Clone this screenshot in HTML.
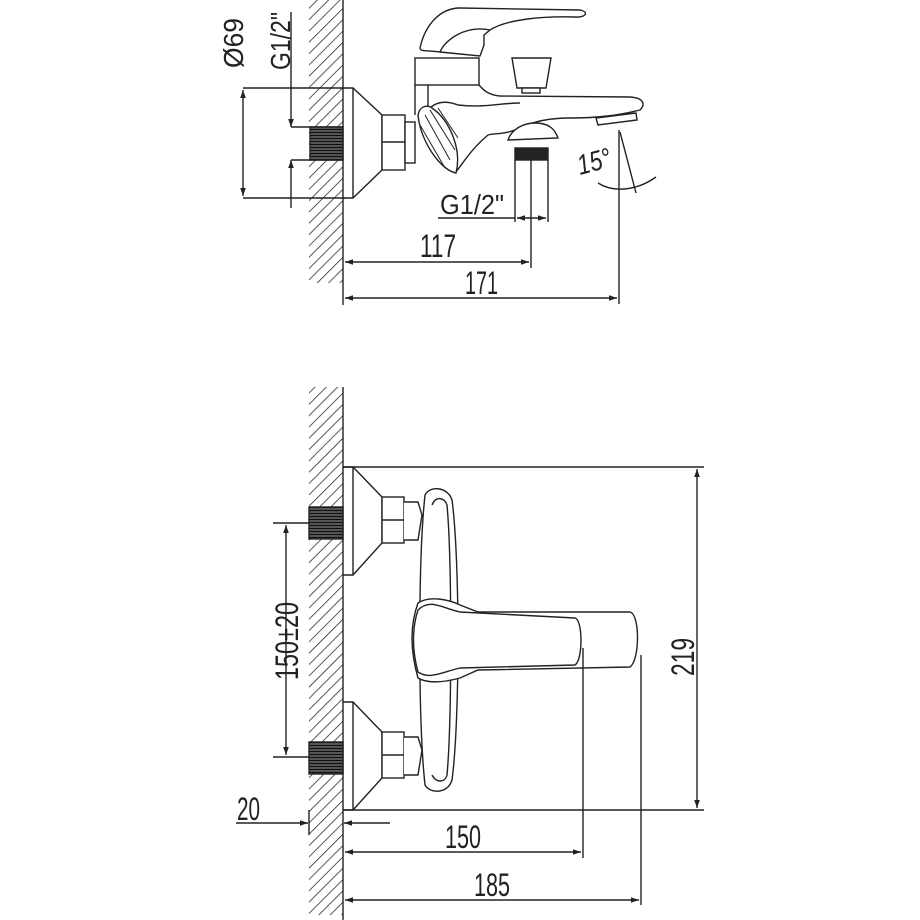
<!DOCTYPE html>
<html><head><meta charset="utf-8"><style>
html,body{margin:0;padding:0;background:#fff}
svg{display:block}
text{font-family:"Liberation Sans Narrow","Liberation Sans",sans-serif;fill:#222}
</style></head><body>
<svg width="920" height="920" viewBox="0 0 920 920" xmlns="http://www.w3.org/2000/svg">
<defs>
<pattern id="h" patternUnits="userSpaceOnUse" width="8" height="8" patternTransform="rotate(45)">
<line x1="0" y1="0" x2="0" y2="8" stroke="#222" stroke-width="1.5"/>
</pattern>
<pattern id="th" patternUnits="userSpaceOnUse" width="3" height="3">
<rect width="3" height="3" fill="#555"/><line x1="0" y1="0" x2="3" y2="0" stroke="#111" stroke-width="2"/>
</pattern>
<marker id="a" viewBox="0 0 10 10" refX="10" refY="5" markerWidth="12" markerHeight="8" markerUnits="userSpaceOnUse" orient="auto-start-reverse">
<path d="M0,1.5 L10,5 L0,8.5 Z" fill="#222"/></marker>
</defs>
<g fill="none" stroke="#222" stroke-width="1.4">
<rect x="309" y="0" width="34" height="283" fill="url(#h)" stroke="none"/>
<line x1="343" y1="0" x2="343" y2="305"/>
<line x1="243" y1="88" x2="345" y2="88"/><line x1="243" y1="198" x2="345" y2="198"/>
<line x1="243" y1="90" x2="243" y2="196" marker-start="url(#a)" marker-end="url(#a)"/>
<line x1="291" y1="12" x2="291" y2="127" marker-end="url(#a)"/>
<line x1="291" y1="208" x2="291" y2="160" marker-end="url(#a)"/>
<line x1="291" y1="127" x2="343" y2="127"/><line x1="291" y1="160" x2="343" y2="160"/>
<rect x="310" y="127" width="33" height="33" fill="url(#th)"/>
<path d="M343,88 L353,88 L382,115 L382,170 L353,198 L343,198"/>
<line x1="353" y1="88" x2="353" y2="198"/>
<rect x="382" y="115" width="23" height="55" fill="#fff"/>
<line x1="382" y1="142" x2="405" y2="142"/>
<rect x="405" y="122" width="10" height="41" fill="#fff"/>
<rect x="415" y="58" width="64" height="27" fill="#fff"/>
<path d="M415,85 L415,115 M428,85 L428,110"/>
<path d="M420,48 C425,25 440,8 460,8 L580,10 C590,12 585,18 575,17 C540,16 505,20 490,30 L484,35 L484,45 L480,56 L440,52 C428,50 420,52 420,48 Z" fill="#fff"/>
<path d="M440,52 C445,40 465,25 490,30"/>
<path d="M479,85 C485,92 490,95 500,96 L630,97 C645,98 645,105 640,110 C620,115 600,118 570,118 C545,118 530,123 520,128 C505,135 495,133 488,135 C470,150 462,165 455,173"/>
<path d="M428,110 C435,102 445,100 458,105 C485,108 500,103 520,103"/>
<path d="M418,115 C420,105 428,105 432,108 C450,120 462,150 456,173 C440,170 420,140 418,115 Z" fill="#fff"/>
<path d="M425,115 L450,160 M420,125 L445,168 M430,110 L455,150 M438,108 L458,138" stroke-width="1"/>
<path d="M508,140 C512,128 525,123 535,123 C550,123 555,130 558,138 L508,140 Z" fill="#fff"/>
<path d="M598,125 L596,118 L636,113 L637,120 Z" fill="#fff"/>
<path d="M512,58 L551,58 L546,88 L517,88 Z" fill="#fff"/>
<rect x="522" y="88" width="18" height="5" fill="#fff"/>
<rect x="515" y="148" width="33" height="12" fill="#222"/>
<path d="M515,160 L515,222 M548,160 L548,222 M531,160 L531,268"/>
<line x1="438" y1="218" x2="515" y2="218"/>
<line x1="517" y1="218" x2="546" y2="218" marker-start="url(#a)" marker-end="url(#a)" />
<line x1="345" y1="262" x2="529" y2="262" marker-start="url(#a)" marker-end="url(#a)"/>
<line x1="345" y1="298" x2="617" y2="298" marker-start="url(#a)" marker-end="url(#a)"/>
<line x1="619" y1="130" x2="619" y2="304"/>
<line x1="620" y1="132" x2="636" y2="193"/>
<path d="M598,183 C612,192 635,192 656,177" />
<rect x="309" y="387" width="34" height="528" fill="url(#h)" stroke="none"/>
<line x1="343" y1="387" x2="343" y2="920"/>
<line x1="343" y1="467" x2="704" y2="467"/><line x1="343" y1="810" x2="704" y2="810"/>
<line x1="697" y1="469" x2="697" y2="808" marker-start="url(#a)" marker-end="url(#a)"/>
<g id="esc">
<path d="M343,467 L353,467 L382,497 L382,543 L353,575 L343,575"/>
<line x1="353" y1="467" x2="353" y2="575"/>
<rect x="382" y="497" width="22" height="46" fill="#fff"/>
<line x1="382" y1="520" x2="404" y2="520"/>
<path d="M404,502 L418,502 L422,515 L418,540 L404,540" fill="#fff"/>
<rect x="309" y="507" width="34" height="32" fill="url(#th)"/>
</g>
<use href="#esc" transform="translate(0,235)"/>
<line x1="273" y1="523" x2="310" y2="523"/><line x1="273" y1="757" x2="310" y2="757"/>
<line x1="286" y1="525" x2="286" y2="755" marker-start="url(#a)" marker-end="url(#a)"/>
<path d="M425,495 C430,485 448,487 452,500 C460,560 460,720 452,780 C448,794 430,794 425,785 C418,720 418,560 425,495 Z" fill="#fff"/>
<path d="M432,505 C436,495 445,498 447,505 C452,560 452,720 447,775 C445,783 436,783 432,775"/>
<path d="M418,603 C430,595 450,600 460,605 L478,612 L630,612 C640,614 640,660 630,667 L478,670 L460,678 C445,682 428,684 418,678 C410,650 410,625 418,603 Z" fill="#fff"/>
<path d="M418,610 C430,598 442,608 460,612 L575,618 C583,620 583,660 575,665 L460,668 C442,672 430,680 418,672 C412,650 412,628 418,610 Z"/>
<line x1="583" y1="648" x2="583" y2="858"/>
<line x1="641" y1="655" x2="641" y2="905"/>
<line x1="236" y1="823" x2="308" y2="823" marker-end="url(#a)"/>
<line x1="390" y1="823" x2="344" y2="823" marker-end="url(#a)"/>
<line x1="309" y1="810" x2="309" y2="835"/>
<line x1="345" y1="852" x2="581" y2="852" marker-start="url(#a)" marker-end="url(#a)"/>
<line x1="345" y1="900" x2="639" y2="900" marker-start="url(#a)" marker-end="url(#a)"/>
</g>
<g font-size="28">
<text transform="translate(243,68) rotate(-90)" textLength="50" lengthAdjust="spacingAndGlyphs">Ø69</text>
<text transform="translate(290,70) rotate(-90)" textLength="58" lengthAdjust="spacingAndGlyphs">G1/2"</text>
<text x="440" y="214" textLength="64" lengthAdjust="spacingAndGlyphs">G1/2"</text>
<text x="420" y="257" font-size="32" textLength="36" lengthAdjust="spacingAndGlyphs">117</text>
<text x="465" y="294" font-size="32" textLength="33" lengthAdjust="spacingAndGlyphs">171</text>
<text transform="translate(580,175) rotate(-15)" font-style="italic" textLength="34" lengthAdjust="spacingAndGlyphs">15°</text>
<text transform="translate(298,680) rotate(-90)" font-size="32" textLength="78" lengthAdjust="spacingAndGlyphs">150±20</text>
<text transform="translate(694,676) rotate(-90)" font-size="32" textLength="38" lengthAdjust="spacingAndGlyphs">219</text>
<text x="237" y="820" font-size="32" textLength="23" lengthAdjust="spacingAndGlyphs">20</text>
<text x="445" y="848" font-size="32" textLength="36" lengthAdjust="spacingAndGlyphs">150</text>
<text x="474" y="896" font-size="32" textLength="36" lengthAdjust="spacingAndGlyphs">185</text>
</g>
</svg>
</body></html>
